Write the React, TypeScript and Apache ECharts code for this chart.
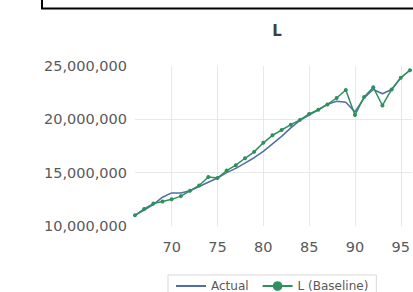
import React, { useEffect, useRef } from "react";
import * as echarts from "echarts";

const years = [66, 67, 68, 69, 70, 71, 72, 73, 74, 75, 76, 77, 78, 79, 80, 81, 82, 83, 84, 85, 86, 87, 88, 89, 90, 91, 92, 93, 94, 95, 96];
const actual = [11.0, 11.5, 12.0, 12.7, 13.1, 13.1, 13.3, 13.7, 14.1, 14.5, 15.0, 15.4, 15.9, 16.4, 17.0, 17.7, 18.4, 19.2, 19.9, 20.4, 20.9, 21.4, 21.7, 21.6, 20.7, 22.0, 22.8, 22.4, 22.8, 23.9, 24.6];
const baseline = [11.0, 11.6, 12.1, 12.3, 12.5, 12.8, 13.3, 13.8, 14.6, 14.5, 15.2, 15.7, 16.35, 16.95, 17.8, 18.5, 19.0, 19.5, 19.95, 20.5, 20.9, 21.4, 22.0, 22.75, 20.4, 22.1, 23.0, 21.3, 22.8, 23.9, 24.6];
const xTicks = [70, 75, 80, 85, 90, 95];
const seriesNames = ["Actual", "L (Baseline)"];
const title = "L";

export default function App() {
  const ref = useRef<HTMLDivElement>(null);
  useEffect(() => {
    if (!ref.current) return;
    const chart = echarts.init(ref.current, null, { renderer: "svg" });
    const font = "DejaVu Sans";
    chart.setOption({
      animation: false,
      backgroundColor: "#ffffff",
      title: {
        text: title,
        left: 272,
        top: 18,
        textAlign: "center",
        textStyle: { fontFamily: font, fontSize: 15, fontWeight: "bold", color: "#404040" },
      },
      graphic: [
        {
          type: "rect",
          shape: { x: 42, y: -10, width: 420, height: 18.5 },
          style: { fill: "none", stroke: "#000000", lineWidth: 2 },
        },
      ],
      legend: {
        left: 168,
        top: 275,
        padding: [5, 8, 5, 8],
        borderColor: "#d9d9d9",
        borderWidth: 1,
        itemWidth: 30,
        itemHeight: 12,
        itemGap: 13,
        textStyle: { fontFamily: font, fontSize: 12, color: "#595959" },
        data: [
          { name: seriesNames[0], icon: "path://M0,0 L30,0 L30,2 L0,2 Z" },
          { name: seriesNames[1] },
        ],
      },
      grid: { left: 135, right: 0, top: 66, bottom: 66, containLabel: false },
      xAxis: {
        type: "value",
        min: 66,
        max: 96.2,
        axisLine: { show: false },
        axisTick: { show: false, customValues: xTicks },
        axisLabel: {
          customValues: xTicks,
          margin: 13,
          fontFamily: font,
          fontSize: 14.5,
          color: "#595959",
        },
        splitLine: { show: true, lineStyle: { color: "#e8e8e8", width: 1 } },
      },
      yAxis: {
        type: "value",
        min: 10000000,
        max: 25000000,
        interval: 5000000,
        axisLine: { show: false },
        axisTick: { show: false },
        axisLabel: {
          margin: 8,
          fontFamily: font,
          fontSize: 14.5,
          color: "#595959",
          formatter: (v: number) => v.toLocaleString("en-US"),
        },
        splitLine: { show: true, showMinLine: false, showMaxLine: false, lineStyle: { color: "#e8e8e8", width: 1 } },
      },
      series: [
        {
          name: seriesNames[0],
          type: "line",
          data: years.map((y, i) => [y, actual[i] * 1e6]),
          showSymbol: false,
          symbol: "none",
          lineStyle: { color: "#4f6fa6", width: 1.5 },
          itemStyle: { color: "#4f6fa6" },
        },
        {
          name: seriesNames[1],
          type: "line",
          data: years.map((y, i) => [y, baseline[i] * 1e6]),
          symbol: "circle",
          symbolSize: 4,
          lineStyle: { color: "#2f8f5f", width: 1.5 },
          itemStyle: { color: "#2f8f5f" },
        },
      ],
    });
    return () => chart.dispose();
  }, []);
  return (
    <div
      ref={ref}
      style={{ position: "fixed", left: 0, top: 0, width: 413, height: 292 }}
    />
  );
}
